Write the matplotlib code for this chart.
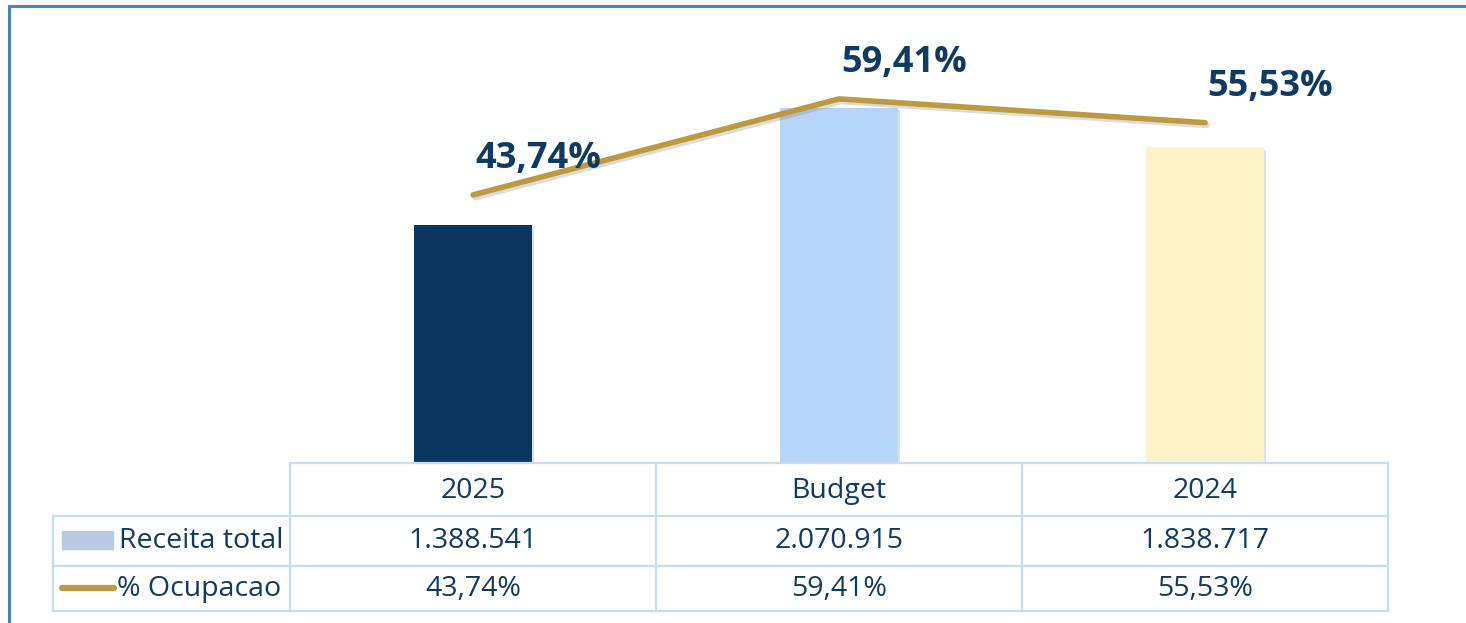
import numpy as np
import matplotlib.pyplot as plt
import matplotlib.patheffects as pe
from matplotlib.lines import Line2D
from matplotlib.patches import Rectangle
from matplotlib.transforms import blended_transform_factory

categories = ["2025", "Budget", "2024"]
receita = [1388541, 2070915, 1838717]
ocupacao = [43.74, 59.41, 55.53]
receita_labels = ["1.388.541", "2.070.915", "1.838.717"]
ocupacao_labels = ["43,74%", "59,41%", "55,53%"]
row_names = ["Receita total", "% Ocupacao"]

BAR_COLORS = ["#0B365F", "#B5D6F6", "#FFF2C7"]
LINE_COLOR = "#BD9A3E"
TEXT_COLOR = "#0E3A63"
GRID_COLOR = "#C5DEF5"
FONT = "Open Sans"
TABLE_FS = 20.5

W, H = 1466, 623


def fx(px):
    return px / W


def fy(py):
    return 1 - py / H


fig = plt.figure(figsize=(W / 100, H / 100), dpi=100)

# outer frame (top and left edges only)
fig.add_artist(Line2D([fx(9), fx(1466)], [fy(6), fy(6)], color="#4F81BD", lw=2.2))
fig.add_artist(Line2D([fx(9), fx(9)], [fy(6), fy(623)], color="#4F81BD", lw=2.2))

ax = fig.add_axes([fx(290), fy(463), fx(1388) - fx(290), fy(34) - fy(463)])
x = np.arange(len(categories))
bars = ax.bar(x, receita, width=0.32, color=BAR_COLORS, zorder=2)
for b in bars:
    b.set_path_effects([pe.SimplePatchShadow(offset=(2, -2), alpha=0.25, shadow_rgbFace="#888888"), pe.Normal()])
ax.set_xlim(-0.5, len(categories) - 0.5)
ax.set_ylim(0, 2500000)
ax.axis("off")

ax2 = ax.twinx()
ax2.plot(x, ocupacao, color=LINE_COLOR, lw=4, solid_capstyle="round", zorder=3,
         path_effects=[pe.SimpleLineShadow(offset=(1.5, -2), alpha=0.25, shadow_color="#777777"), pe.Normal()])
ax2.set_ylim(0, 70)
ax2.set_xlim(-0.5, len(categories) - 0.5)
ax2.axis("off")

for xi, v, lab in zip(x, ocupacao, ocupacao_labels):
    ax2.annotate(lab, (xi, v), xytext=(2, 36), textcoords="offset pixels",
                 ha="left", va="center", fontsize=26, fontweight="bold",
                 color=TEXT_COLOR, family=FONT)

# data table under the chart
lines = [
    ([290, 1388], [463, 463]),
    ([53, 1388], [516, 516]),
    ([53, 1388], [566, 566]),
    ([53, 1388], [611, 611]),
    ([53, 53], [516, 611]),
]
for cx in [290, 656, 1022, 1388]:
    lines.append(([cx, cx], [463, 611]))
for xs, ys in lines:
    fig.add_artist(Line2D([fx(v) for v in xs], [fy(v) for v in ys], color=GRID_COLOR, lw=1.6))

trans = blended_transform_factory(ax.transData, fig.transFigure)
rows = [(491, categories), (541, receita_labels), (589, ocupacao_labels)]
for py, labels in rows:
    for xi, lab in zip(x, labels):
        fig.text(xi, fy(py), lab, transform=trans, ha="center", va="center",
                 fontsize=TABLE_FS, color=TEXT_COLOR, family=FONT)

# legend keys in the row headers
fig.add_artist(Rectangle((fx(62), fy(549)), fx(51), fy(531) - fy(549), color="#B7CBE4"))
fig.add_artist(Line2D([fx(62), fx(114)], [fy(588), fy(588)], color=LINE_COLOR, lw=4.5,
                      solid_capstyle="round"))
fig.text(fx(119), fy(541), row_names[0], ha="left", va="center", fontsize=TABLE_FS,
         color=TEXT_COLOR, family=FONT)
fig.text(fx(117), fy(589), row_names[1], ha="left", va="center", fontsize=TABLE_FS,
         color=TEXT_COLOR, family=FONT)

fig.savefig("out.png", dpi=100)
